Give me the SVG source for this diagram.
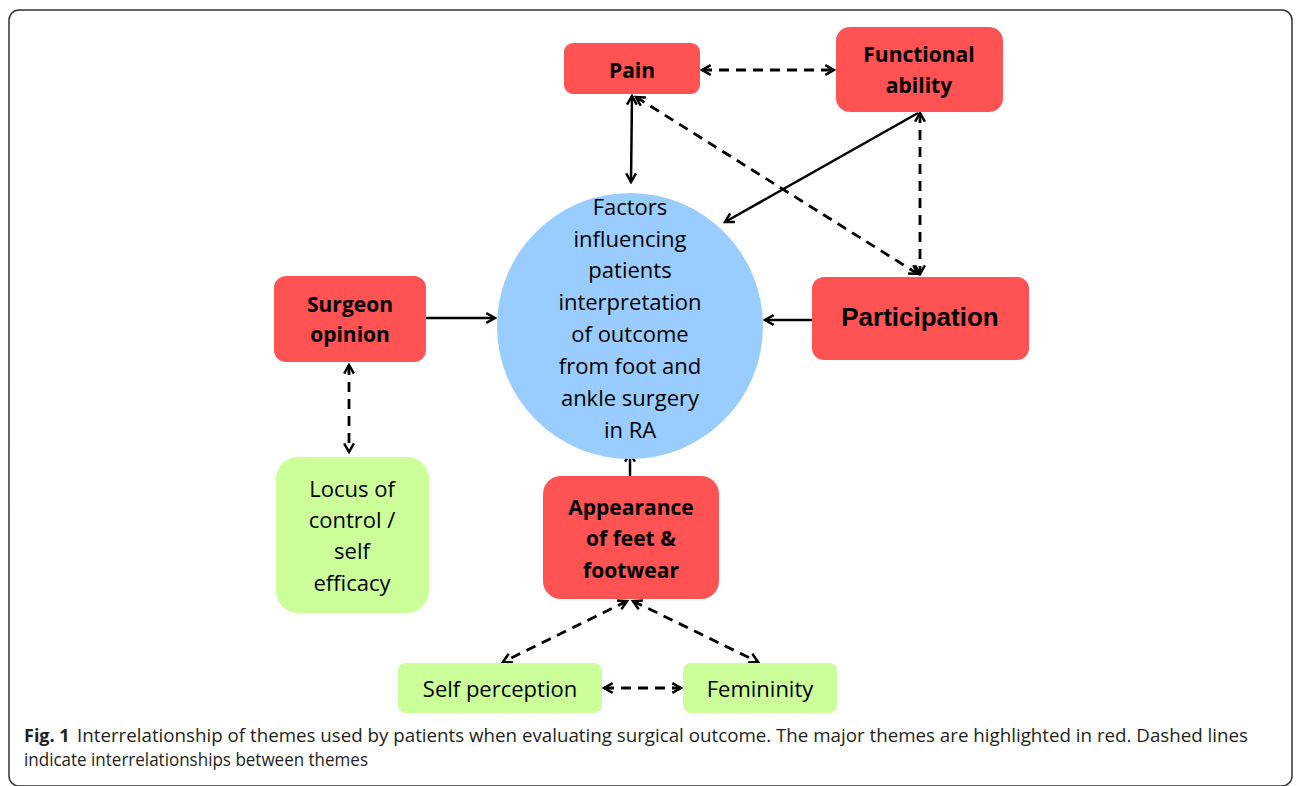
<svg xmlns="http://www.w3.org/2000/svg" width="1296" height="786" viewBox="0 0 1296 786">
<defs>
<marker id="ah" viewBox="0 0 12 12" refX="10" refY="6" markerWidth="13" markerHeight="13" markerUnits="userSpaceOnUse" orient="auto-start-reverse">
<path d="M2,1.5 L10,6 L2,10.5" fill="none" stroke="#000" stroke-width="2.3" stroke-linejoin="miter"/>
</marker>
</defs>
<style>
.bg{fill:#fff}
.frame{fill:none;stroke:#333;stroke-width:1.5}
.red{fill:#FF5252}
.green{fill:#CCFF99}
.blue{fill:#99CCFF}
.b{font-family:"Open Sans","Liberation Sans",sans-serif;font-weight:bold;font-size:21px;fill:#000;text-anchor:middle}
.r{font-family:"Open Sans","Liberation Sans",sans-serif;font-size:22px;fill:#000;text-anchor:middle}
.p{font-family:"Liberation Sans",Arial,sans-serif;font-weight:bold;font-size:26px;fill:#000;text-anchor:middle}
.cap{font-family:"Open Sans","Liberation Sans",sans-serif;font-size:18px;fill:#231f20}
.solid{stroke:#000;stroke-width:2.5;fill:none}
.dash{stroke:#000;stroke-width:2.8;fill:none;stroke-dasharray:10 7}
</style>
<rect class="bg" x="0" y="0" width="1296" height="786"/>
<rect class="frame" x="9" y="10" width="1283" height="776" rx="10"/>

<g id="connectors">
<line class="dash" x1="702" y1="70" x2="834" y2="70" marker-start="url(#ah)" marker-end="url(#ah)"/>
<line class="solid" x1="632" y1="96" x2="631" y2="182" marker-start="url(#ah)" marker-end="url(#ah)"/>
<line class="dash" x1="636" y1="97" x2="918" y2="274" marker-start="url(#ah)" marker-end="url(#ah)"/>
<line class="dash" x1="920" y1="113" x2="920" y2="274" marker-start="url(#ah)" marker-end="url(#ah)"/>
<line class="solid" x1="918" y1="113" x2="725" y2="222" marker-end="url(#ah)"/>
<line class="solid" x1="426" y1="318" x2="495" y2="318" marker-end="url(#ah)"/>
<line class="solid" x1="812" y1="320" x2="765" y2="320" marker-end="url(#ah)"/>
<line class="solid" x1="630" y1="476" x2="630" y2="453" marker-end="url(#ah)"/>
<line class="dash" x1="349" y1="365" x2="349" y2="452" marker-start="url(#ah)" marker-end="url(#ah)"/>
<line class="dash" x1="627" y1="601" x2="503" y2="662" marker-start="url(#ah)" marker-end="url(#ah)"/>
<line class="dash" x1="633" y1="601" x2="758" y2="662" marker-start="url(#ah)" marker-end="url(#ah)"/>
<line class="dash" x1="604" y1="688" x2="681" y2="688" marker-start="url(#ah)" marker-end="url(#ah)"/>
</g>

<g id="center">
<circle class="blue" cx="630" cy="326" r="133"/>
<text class="r" x="630" y="215">Factors</text>
<text class="r" x="630" y="247">influencing</text>
<text class="r" x="630" y="278">patients</text>
<text class="r" x="630" y="310">interpretation</text>
<text class="r" x="630" y="342">of outcome</text>
<text class="r" x="630" y="374">from foot and</text>
<text class="r" x="630" y="406">ankle surgery</text>
<text class="r" x="630" y="438">in RA</text>
</g>

<g id="pain">
<rect class="red" x="564" y="43" width="136" height="51" rx="9"/>
<text class="b" x="632" y="78">Pain</text>
</g>

<g id="functional">
<rect class="red" x="836" y="27" width="167" height="85" rx="14"/>
<text class="b" x="919" y="62">Functional</text>
<text class="b" x="919" y="93">ability</text>
</g>

<g id="participation">
<rect class="red" x="812" y="277" width="217" height="83" rx="12"/>
<text class="p" x="920" y="326">Participation</text>
</g>

<g id="surgeon">
<rect class="red" x="274" y="276" width="152" height="86" rx="12"/>
<text class="b" x="350" y="312">Surgeon</text>
<text class="b" x="350" y="342">opinion</text>
</g>

<g id="locus">
<rect class="green" x="276" y="457" width="153" height="156" rx="22"/>
<text class="r" x="352" y="497">Locus of</text>
<text class="r" x="352" y="528">control /</text>
<text class="r" x="352" y="559">self</text>
<text class="r" x="352" y="591">efficacy</text>
</g>

<g id="appearance">
<rect class="red" x="543" y="476" width="176" height="123" rx="18"/>
<text class="b" x="631" y="515">Appearance</text>
<text class="b" x="631" y="546">of feet &amp;</text>
<text class="b" x="631" y="578">footwear</text>
</g>

<g id="selfperception">
<rect class="green" x="398" y="663" width="204" height="50" rx="8"/>
<text class="r" x="500" y="697">Self perception</text>
</g>

<g id="femininity">
<rect class="green" x="683" y="663" width="154" height="50" rx="8"/>
<text class="r" x="760" y="697">Femininity</text>
</g>

<g id="caption">
<text class="cap" x="24" y="742" font-weight="bold">Fig. 1</text>
<text class="cap" x="77" y="742" textLength="1171" lengthAdjust="spacingAndGlyphs">Interrelationship of themes used by patients when evaluating surgical outcome. The major themes are highlighted in red. Dashed lines</text>
<text class="cap" x="24" y="766" textLength="344" lengthAdjust="spacingAndGlyphs">indicate interrelationships between themes</text>
</g>
</svg>
